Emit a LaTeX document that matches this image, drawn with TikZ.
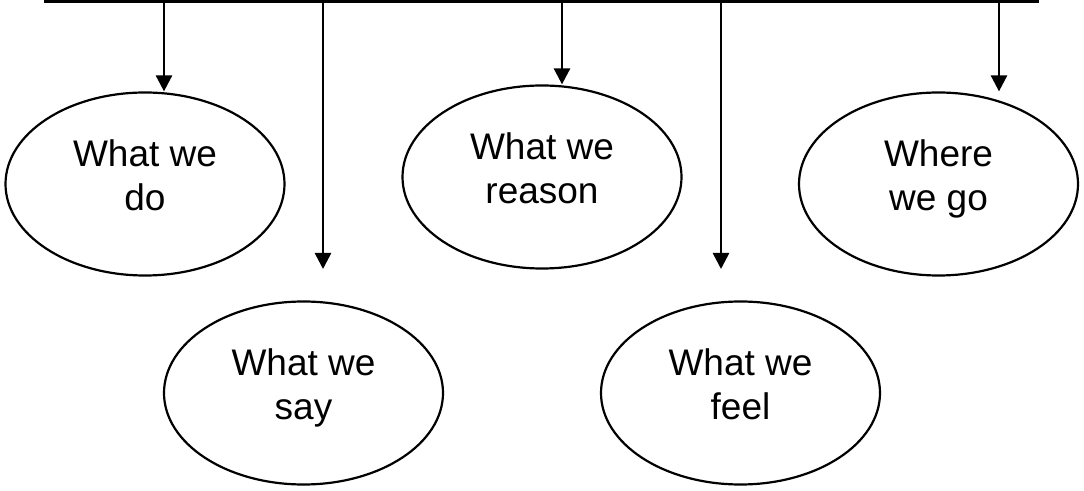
\documentclass[tikz,border=0pt]{standalone}
\usepackage{fontspec}
\setmainfont{Liberation Sans}
\usetikzlibrary{shapes.geometric,arrows.meta}
\begin{document}
\begin{tikzpicture}[x=1pt,y=1pt,
  oval/.style={draw, ellipse, line width=2.2pt, minimum width=279pt, minimum height=183pt, inner sep=0pt},
  lbl/.style={anchor=north, inner sep=0pt, align=center, font=\fontsize{37}{44}\selectfont},
  conn/.style={line width=2.6pt, -{Triangle[length=16pt,width=16pt]}},
  bar/.style={line width=3pt}]
\useasboundingbox (0,0) rectangle (1084,490);
% ellipses (pixel y converted: 490 - py)
\node[oval] (e1) at (145,306) {};
\node[oval] (e2) at (303.5,97) {};
\node[oval] (e3) at (542,313) {};
\node[oval] (e4) at (740.5,97) {};
\node[oval] (e5) at (938.5,306) {};
% labels
\node[lbl] (l1) at ([yshift=45pt]e1.center) {What we\\do};
\node[lbl] (l2) at ([yshift=45pt]e2.center) {What we\\say};
\node[lbl] (l3) at ([yshift=45pt]e3.center) {What we\\reason};
\node[lbl] (l4) at ([yshift=45pt]e4.center) {What we\\feel};
\node[lbl] (l5) at ([yshift=45pt]e5.center) {Where\\we go};
% top bar
\coordinate (bl) at (44,488.6);
\coordinate (br) at (1039,488.6);
\draw[bar] (bl) -- (br);
\coordinate (t1) at (164,488.6);
\coordinate (t2) at (323,488.6);
\coordinate (t3) at (562,488.6);
\coordinate (t4) at (721,488.6);
\coordinate (t5) at (999,488.6);
\coordinate (f2) at (323,221);
\coordinate (f4) at (721,221);
\draw[conn] (t1) -- (t1 |- e1.north);
\draw[conn] (t2) -- (f2);
\draw[conn] (t3) -- (t3 |- e3.north);
\draw[conn] (t4) -- (f4);
\draw[conn] (t5) -- (t5 |- e5.north);
\end{tikzpicture}
\end{document}
